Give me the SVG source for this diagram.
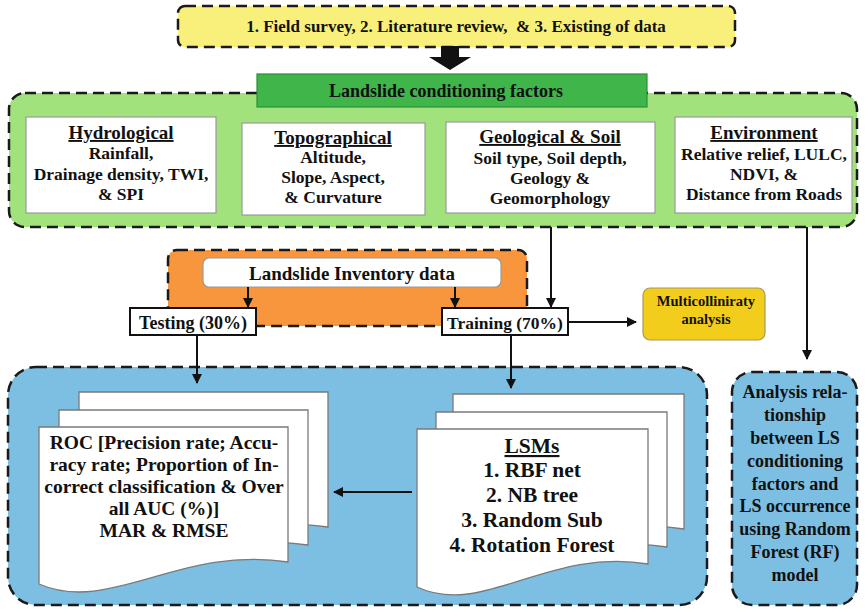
<svg xmlns="http://www.w3.org/2000/svg" xmlns:xlink="http://www.w3.org/1999/xlink" width="865" height="609" viewBox="0 0 865 609">
  <style>
    text { font-family: "Liberation Serif", "Times New Roman", serif; font-weight: bold; fill: #111; text-anchor: middle; }
    .dash { stroke: #1a1a1a; stroke-width: 2.5; stroke-dasharray: 11 6; }
    .card { fill: #ffffff; stroke: #9a9a9a; stroke-width: 1.2; }
    .page { fill: #ffffff; stroke: #7a7a7a; stroke-width: 1.3; }
    .box { fill: #ffffff; stroke: #111; stroke-width: 2; }
    .conn { stroke: #111; stroke-width: 2; fill: none; marker-end: url(#tip); }
    .head { font-size: 19px; text-decoration: underline; }
    .body { font-size: 17.5px; }
  </style>
  <defs>
    <marker id="tip" viewBox="0 0 10 10" refX="9" refY="5" markerWidth="5" markerHeight="5" orient="auto" markerUnits="strokeWidth">
      <path d="M0,0 L10,5 L0,10 Z" fill="#111"/>
    </marker>
    <!-- document sheet with a wavy lower edge -->
    <path id="docL" class="page" d="M0,0 H249 V135 C141,118 71,188 0,157 Z"/>
    <path id="docR" class="page" d="M0,0 H231 V135 C131,118 66,189 0,158 Z"/>
  </defs>

  <!-- sources -->
  <g id="sources">
    <rect x="178" y="6" width="557" height="41" rx="7" fill="#f8f07a" class="dash"/>
    <text x="456" y="32" font-size="17" style="white-space:pre">1. Field survey, 2. Literature review,  &amp; 3. Existing of data</text>
  </g>

  <!-- block arrow down -->
  <g id="block-arrow">
    <path d="M441,46 H459 V57 H471 L450,70 L429,57 H441 Z" fill="#111"/>
  </g>

  <!-- conditioning factors panel -->
  <g id="factors-panel">
    <rect x="9" y="93" width="848" height="134" rx="16" fill="#a2e27d" class="dash"/>
  </g>
  <g id="factors-title">
    <rect x="257" y="74" width="390" height="33" fill="#3fb54a" stroke="#2b8f37" stroke-width="1.2"/>
    <text x="446" y="97" font-size="18">Landslide conditioning factors</text>
  </g>

  <g id="hydrological">
    <rect class="card" x="26" y="117" width="190" height="96"/>
    <text class="head" x="121" y="139">Hydrological</text>
    <text class="body" x="121" y="159">Rainfall,</text>
    <text class="body" x="121" y="180">Drainage density, TWI,</text>
    <text class="body" x="121" y="200">&amp; SPI</text>
  </g>
  <g id="topographical">
    <rect class="card" x="242" y="123" width="183" height="92"/>
    <text class="head" x="333" y="144">Topographical</text>
    <text class="body" x="333" y="163">Altitude,</text>
    <text class="body" x="333" y="183">Slope, Aspect,</text>
    <text class="body" x="333" y="203">&amp; Curvature</text>
  </g>
  <g id="geological">
    <rect class="card" x="446" y="122" width="209" height="91"/>
    <text class="head" x="550" y="143">Geological &amp; Soil</text>
    <text class="body" x="550" y="164">Soil type, Soil depth,</text>
    <text class="body" x="550" y="184">Geology &amp;</text>
    <text class="body" x="550" y="204">Geomorphology</text>
  </g>
  <g id="environment">
    <rect class="card" x="675" y="117" width="177" height="96"/>
    <text class="head" x="764" y="139">Environment</text>
    <text class="body" x="764" y="160">Relative relief, LULC,</text>
    <text class="body" x="764" y="180">NDVI, &amp;</text>
    <text class="body" x="764" y="200">Distance from Roads</text>
  </g>

  <!-- inventory -->
  <g id="inventory">
    <rect x="168" y="250" width="359" height="76" rx="9" fill="#f7963c" class="dash"/>
    <rect x="203" y="258" width="298" height="29" rx="6" fill="#ffffff" stroke="#9a9a9a" stroke-width="1.2"/>
    <text x="352" y="280" font-size="19">Landslide Inventory data</text>
  </g>

  <g id="testing">
    <rect class="box" x="130" y="308" width="126" height="27"/>
    <text x="193" y="329" font-size="18">Testing (30%)</text>
  </g>
  <g id="training">
    <rect class="box" x="442" y="308" width="126" height="27"/>
    <text x="505" y="329" font-size="17.5">Training (70%)</text>
  </g>

  <g id="multicollinearity">
    <rect x="643" y="288" width="122" height="52" rx="7" fill="#f3cd1c" stroke="#a89a5a" stroke-width="1.2"/>
    <text x="706" y="306" font-size="14.5">Multicolliniraty</text>
    <text x="706" y="324" font-size="14.5">analysis</text>
  </g>

  <!-- modelling panel -->
  <g id="model-panel">
    <rect x="8" y="367" width="699" height="238" rx="28" fill="#7dbfe2" class="dash"/>
  </g>

  <g id="validation">
    <use xlink:href="#docL" x="79" y="392"/>
    <use xlink:href="#docL" x="59" y="410"/>
    <use xlink:href="#docL" x="39" y="427"/>
    <text x="164" y="449" font-size="19.5">ROC [Precision rate; Accu-</text>
    <text x="164" y="471" font-size="19.5">racy rate; Proportion of In-</text>
    <text x="164" y="493" font-size="19.5">correct classification &amp; Over</text>
    <text x="164" y="515" font-size="19.5">all AUC (%)]</text>
    <text x="164" y="537" font-size="19.5">MAR &amp; RMSE</text>
  </g>

  <g id="lsms">
    <use xlink:href="#docR" x="453" y="394"/>
    <use xlink:href="#docR" x="436" y="412"/>
    <use xlink:href="#docR" x="417" y="429"/>
    <text x="532" y="453" font-size="21.5" text-decoration="underline">LSMs</text>
    <text x="532" y="477" font-size="21.5">1. RBF net</text>
    <text x="532" y="502" font-size="21.5">2. NB tree</text>
    <text x="532" y="527" font-size="21.5">3. Random Sub</text>
    <text x="532" y="552" font-size="21.5">4. Rotation Forest</text>
  </g>

  <g id="rf-analysis">
    <rect x="732" y="372" width="125" height="233" rx="20" fill="#7dbfe2" class="dash"/>
    <text x="795" y="398" font-size="18">Analysis rela-</text>
    <text x="795" y="421" font-size="18">tionship</text>
    <text x="795" y="444" font-size="18">between LS</text>
    <text x="795" y="467" font-size="18">conditioning</text>
    <text x="795" y="490" font-size="18">factors and</text>
    <text x="795" y="512" font-size="18">LS occurrence</text>
    <text x="795" y="535" font-size="18">using Random</text>
    <text x="795" y="558" font-size="18">Forest (RF)</text>
    <text x="795" y="581" font-size="18">model</text>
  </g>

  <!-- connectors -->
  <g id="connectors">
    <line class="conn" x1="248" y1="287" x2="248" y2="307"/>
    <line class="conn" x1="455" y1="287" x2="455" y2="307"/>
    <line class="conn" x1="551" y1="227" x2="551" y2="307"/>
    <line class="conn" x1="568" y1="322" x2="636" y2="322"/>
    <line class="conn" x1="807" y1="227" x2="807" y2="359"/>
    <line class="conn" x1="197" y1="335" x2="197" y2="383"/>
    <line class="conn" x1="511" y1="335" x2="511" y2="388"/>
    <line class="conn" x1="412" y1="492" x2="334" y2="492"/>
  </g>
</svg>
